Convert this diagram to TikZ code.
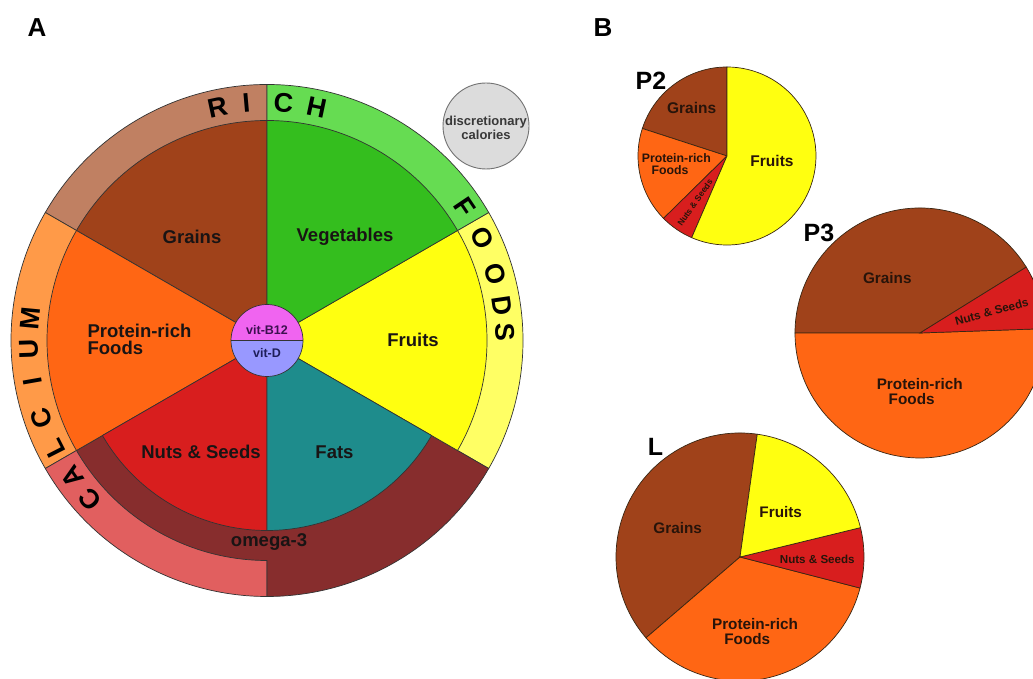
\documentclass[tikz,border=0pt]{standalone}
\usepackage{fontspec}
\setmainfont{Liberation Sans}
\definecolor{cGrain}{RGB}{160,66,26}
\definecolor{cGrainR}{RGB}{192,128,98}
\definecolor{cVeg}{RGB}{52,190,30}
\definecolor{cVegR}{RGB}{102,220,82}
\definecolor{cFruit}{RGB}{255,255,16}
\definecolor{cFruitR}{RGB}{255,255,100}
\definecolor{cProt}{RGB}{255,102,20}
\definecolor{cProtR}{RGB}{255,154,72}
\definecolor{cNuts}{RGB}{216,30,30}
\definecolor{cFats}{RGB}{30,140,140}
\definecolor{cOmega}{RGB}{135,45,45}
\definecolor{cCalR}{RGB}{225,95,95}
\definecolor{cB}{RGB}{240,100,240}
\definecolor{cD}{RGB}{152,152,255}
\definecolor{cDisc}{RGB}{220,220,220}
\definecolor{ink}{RGB}{25,20,20}
\definecolor{pink}{RGB}{40,20,10}
\definecolor{vitB}{RGB}{60,16,80}
\definecolor{vitD}{RGB}{30,30,90}
\begin{document}
\begin{tikzpicture}[x=1pt,y=1pt,
  seg/.style={draw=black!80, line width=0.7pt},
  pseg/.style={draw=black!70!brown, line width=0.7pt},
  lab/.style={font=\bfseries\fontsize{18.5}{17}\selectfont, text=ink, inner sep=0pt},
  plab/.style={font=\bfseries\fontsize{15.3}{14.6}\selectfont, text=pink, inner sep=0pt},
  ringl/.style={font=\bfseries\fontsize{27}{27}\selectfont, text=black, inner sep=0pt},
  panel/.style={font=\bfseries\fontsize{26}{26}\selectfont, text=black, inner sep=0pt},
  pname/.style={font=\bfseries\fontsize{25}{25}\selectfont, text=black, inner sep=0pt}]
\useasboundingbox (0,0) rectangle (1033,679);
\fill[white] (0,0) rectangle (1033,679);
\clip (0,0) rectangle (1033,679);

% ---------------- Panel A ----------------
\begin{scope}[shift={(267,338.5)}]
  % outer ring
  \filldraw[seg,fill=cGrainR] (0,0) -- (90:256pt) arc[start angle=90,end angle=150,radius=256pt] -- cycle;
  \filldraw[seg,fill=cProtR] (0,0) -- (150:256pt) arc[start angle=150,end angle=210,radius=256pt] -- cycle;
  \filldraw[seg,fill=cCalR] (0,0) -- (210:256pt) arc[start angle=210,end angle=270,radius=256pt] -- cycle;
  \filldraw[seg,fill=cFruitR] (0,0) -- (-30:256pt) arc[start angle=-30,end angle=30,radius=256pt] -- cycle;
  \filldraw[seg,fill=cVegR] (0,0) -- (30:256pt) arc[start angle=30,end angle=90,radius=256pt] -- cycle;
  % omega-3 band
  \filldraw[seg,fill=cOmega] (0,0) -- (210:220pt) arc[start angle=210,end angle=270,radius=220pt]
     -- (270:256pt) arc[start angle=270,end angle=330,radius=256pt] -- cycle;
  % inner sectors
  \filldraw[seg,fill=cGrain] (0,0) -- (90:220pt) arc[start angle=90,end angle=150,radius=220pt] -- cycle;
  \filldraw[seg,fill=cProt] (0,0) -- (150:220pt) arc[start angle=150,end angle=210,radius=220pt] -- cycle;
  \filldraw[seg,fill=cFruit] (0,0) -- (-30:220pt) arc[start angle=-30,end angle=30,radius=220pt] -- cycle;
  \filldraw[seg,fill=cVeg] (0,0) -- (30:220pt) arc[start angle=30,end angle=90,radius=220pt] -- cycle;
  \filldraw[seg,fill=cNuts] (0,0) -- (210:190pt) arc[start angle=210,end angle=270,radius=190pt] -- cycle;
  \filldraw[seg,fill=cFats] (0,0) -- (270:190pt) arc[start angle=270,end angle=330,radius=190pt] -- cycle;
  % vitamin circle
  \fill[cB] (0:36pt) arc[start angle=0,end angle=180,radius=36pt] -- cycle;
  \fill[cD] (180:36pt) arc[start angle=180,end angle=360,radius=36pt] -- cycle;
  \draw[seg] (0,0) circle[radius=36pt];
  \draw[seg] (180:36pt) -- (0:36pt);
  % ring letters
  \foreach \a/\l in {222/C,215/A,207/L,199/C,190/I,182/U,174.6/M,102/R,95/I,86/C,78/H,34/F,25.4/O,16.1/O,8.4/D,2/S}
    \node[ringl, rotate=\a-90] at (\a:238pt) {\l};
\end{scope}

\node[lab] (grains) at (192,442) {Grains};
\node[lab] (veg) at (345,442) {Vegetables};
\node[lab, align=left] (prot) at (139.5,339.5) {Protein-rich\\Foods};
\node[lab] (fruits) at (413,339) {Fruits};
\node[lab] (nuts) at (201,227) {Nuts \& Seeds};
\node[lab] (fats) at (334.5,227) {Fats};
\node[lab] (omega) at (269,136.5) {omega-3};
\node[font=\bfseries\fontsize{12.5}{13}\selectfont, text=vitB, inner sep=0pt] (vb) at (267,349) {vit-B12};
\node[font=\bfseries\fontsize{12.5}{13}\selectfont, text=vitD, inner sep=0pt] (vd) at (267,326) {vit-D};

\filldraw[fill=cDisc, draw=black!55, line width=0.9pt] (486,553) circle[radius=43pt];
\node[font=\bfseries\fontsize{13}{14}\selectfont, text=black!78, align=center, inner sep=0pt] (disc) at (486,551) {discretionary\\calories};

\node[panel] (A) at (37,651) {A};
\node[panel] (B) at (603,651) {B};

% ---------------- Panel B: P2 ----------------
\begin{scope}[shift={(727,523)}]
  \filldraw[pseg,fill=cGrain] (0,0) -- (90:89pt) arc[start angle=90,end angle=162,radius=89pt] -- cycle;
  \filldraw[pseg,fill=cProt] (0,0) -- (162:89pt) arc[start angle=162,end angle=224.5,radius=89pt] -- cycle;
  \filldraw[pseg,fill=cNuts] (0,0) -- (224.5:89pt) arc[start angle=224.5,end angle=246.6,radius=89pt] -- cycle;
  \filldraw[pseg,fill=cFruit] (0,0) -- (246.6:89pt) arc[start angle=246.6,end angle=450,radius=89pt] -- cycle;
\end{scope}
\node[plab, font=\bfseries\fontsize{15.5}{15}\selectfont] (p2g) at (691.7,570.7) {Grains};
\node[plab, font=\bfseries\fontsize{12.3}{11.7}\selectfont, align=left] (p2p) at (676.3,514.7) {Protein-rich\\\hspace*{0.8em}Foods};
\node[plab, font=\bfseries\fontsize{15.5}{15}\selectfont] (p2f) at (772,518.3) {Fruits};
\node[plab, font=\bfseries\fontsize{8.5}{9}\selectfont, rotate=55] (p2n) at (695,476.3) {Nuts \& Seeds};
\node[pname] (P2) at (651,598) {P2};

% ---------------- Panel B: P3 ----------------
\begin{scope}[shift={(920,346)}]
  \filldraw[pseg,fill=cGrain] (0,0) -- (31.8:125pt) arc[start angle=31.8,end angle=180,radius=125pt] -- cycle;
  \filldraw[pseg,fill=cProt] (0,0) -- (180:125pt) arc[start angle=180,end angle=362,radius=125pt] -- cycle;
  \filldraw[pseg,fill=cNuts] (0,0) -- (2:125pt) arc[start angle=2,end angle=31.8,radius=125pt] -- cycle;
\end{scope}
\node[plab] (p3g) at (887.3,400.7) {Grains};
\node[plab, font=\bfseries\fontsize{11.7}{12}\selectfont, rotate=15] (p3n) at (991.7,367.3) {Nuts \& Seeds};
\node[plab, align=left] (p3p) at (919.7,287.3) {Protein-rich\\\hspace*{0.78em}Foods};
\node[pname] (P3) at (819,446) {P3};

% ---------------- Panel B: L ----------------
\begin{scope}[shift={(740,122)}]
  \filldraw[pseg,fill=cGrain] (0,0) -- (82:124pt) arc[start angle=82,end angle=220.7,radius=124pt] -- cycle;
  \filldraw[pseg,fill=cProt] (0,0) -- (220.7:124pt) arc[start angle=220.7,end angle=345.5,radius=124pt] -- cycle;
  \filldraw[pseg,fill=cNuts] (0,0) -- (345.5:124pt) arc[start angle=345.5,end angle=373.7,radius=124pt] -- cycle;
  \filldraw[pseg,fill=cFruit] (0,0) -- (13.7:124pt) arc[start angle=13.7,end angle=82,radius=124pt] -- cycle;
\end{scope}
\node[plab] (lg) at (677.7,150.7) {Grains};
\node[plab] (lf) at (780.7,166.7) {Fruits};
\node[plab, font=\bfseries\fontsize{11.6}{12}\selectfont] (ln) at (817.3,120) {Nuts \& Seeds};
\node[plab, align=left] (lp) at (755,47.3) {Protein-rich\\\hspace*{0.8em}Foods};
\node[pname] (L) at (655.5,232) {L};
\end{tikzpicture}
\end{document}
